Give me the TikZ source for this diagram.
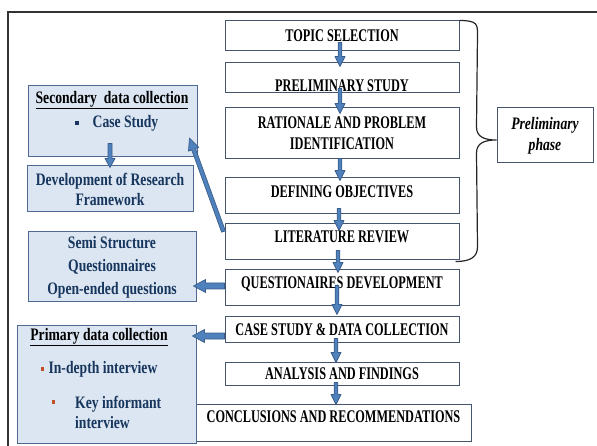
\documentclass[tikz,border=0pt]{standalone}
\usepackage{fontspec}
\setmainfont{Liberation Serif}
\newfontfamily\stepfont[FakeStretch=0.69]{Liberation Serif}
\newfontfamily\panelfont[FakeStretch=0.78]{Liberation Serif}
\usetikzlibrary{calc}

\definecolor{arrowfill}{RGB}{79,129,189}
\definecolor{arrowline}{RGB}{56,93,138}
\definecolor{panelfill}{RGB}{220,230,242}
\definecolor{panelline}{RGB}{80,105,145}
\definecolor{boxline}{RGB}{70,85,110}
\definecolor{navytext}{RGB}{23,54,93}
\definecolor{bulletred}{RGB}{192,80,40}

\tikzset{
  stepbox/.style={draw=boxline, line width=1pt, fill=white, minimum width=234pt, inner sep=1pt,
    font=\stepfont\bfseries\fontsize{17.8}{21}\selectfont, align=center},
  phasebox/.style={draw=boxline, line width=1pt, fill=white, inner sep=1pt,
    font=\panelfont\bfseries\itshape\fontsize{17.5}{21}\selectfont, align=center},
  panel/.style={draw=panelline, line width=1pt, fill=panelfill, inner sep=0pt},
  paneltext/.style={font=\panelfont\bfseries\fontsize{17.5}{20}\selectfont, text=navytext, align=center, inner sep=0pt},
  navybullet/.style={fill=navytext, inner sep=0pt, minimum size=3.5pt},
  redbullet/.style={fill=bulletred, inner sep=0pt, minimum width=3pt, minimum height=4pt},
  flowarrowstyle/.style={fill=arrowfill, draw=arrowline, line width=0.7pt, line join=round},
  bracestyle/.style={draw=black!85, line width=1.2pt},
}

% block arrow: from, to, half shaft, half head, head length
\newcommand{\flowarrow}[5]{%
  \coordinate (fa1) at #1;
  \coordinate (fa2) at #2;
  \coordinate (fah) at ($(fa2)!#5!(fa1)$);
  \filldraw[flowarrowstyle] ($(fa1)!#3!90:(fa2)$) -- ($(fah)!#3!-90:(fa1)$) -- ($(fah)!#4!-90:(fa1)$)
    -- (fa2) -- ($(fah)!#4!90:(fa1)$) -- ($(fah)!#3!90:(fa1)$) -- ($(fa1)!#3!-90:(fa2)$) -- cycle;}

\begin{document}
\begin{tikzpicture}[x=1pt, y=-1pt]
\useasboundingbox (0,0) rectangle (597,446);

\draw[black!80, line width=1.3pt] (8,446) -- (8,12) -- (597,12);

% main steps
\node[stepbox, minimum height=30pt] (topic) at (342,36) {TOPIC SELECTION};
\node[stepbox, minimum height=30pt, text height=27pt] (prelim) at ($(topic)+(0,42)$) {PRELIMINARY STUDY};
\node[stepbox, minimum height=51pt] (rationale) at ($(topic)+(0,97.5)$) {RATIONALE AND PROBLEM\\IDENTIFICATION};
\node[stepbox, minimum height=36pt, text depth=8pt] (objectives) at ($(topic)+(0,160)$) {DEFINING OBJECTIVES};
\node[stepbox, minimum height=36pt, text depth=10pt] (literature) at ($(topic)+(0,206)$) {LITERATURE REVIEW};
\node[stepbox, minimum height=36pt, text depth=10pt] (questionnaire) at ($(topic)+(0,252)$) {QUESTIONAIRES DEVELOPMENT};
\node[stepbox, minimum height=25pt] (fieldwork) at ($(topic)+(0,293.5)$) {CASE STUDY \& DATA COLLECTION};
\node[stepbox, minimum height=23pt] (analysis) at ($(topic)+(0,337.5)$) {ANALYSIS AND FINDINGS};
\node[stepbox, minimum height=37pt, minimum width=275pt, text depth=11pt] (conclusions) at (333.5,422.5) {CONCLUSIONS AND RECOMMENDATIONS};

% phase
\node[phasebox, minimum width=96pt, minimum height=55pt] (phase) at (545,135.5) {Preliminary\\phase};
\coordinate (bracetip) at ($(phase.west)+(0,4.5)$);
\draw[bracestyle] (topic.north east) .. controls +(18,0) and +(0,-10) .. ++(18,14)
  -- ($(bracetip)+(-20,-13)$) .. controls +(0,10) and +(-12,0) .. (bracetip)
  .. controls +(-12,0) and +(0,-10) .. ($(bracetip)+(-20,13)$)
  -- ($(literature.south east)+(18,-14)$) .. controls +(0,10) and +(16,0) .. ($(literature.south east)+(-4,1)$);

% left panels
\node[panel, minimum width=169pt, minimum height=71pt] (secondary) at (112.5,121.5) {};
\node[paneltext, text=black] (sectitle) at (112,100) {\underline{Secondary\ \ data collection}};
\node[navybullet] (b0) at (77,123) {};
\node[paneltext] (caseitem) at (125.5,123) {Case Study};

\node[panel, paneltext, minimum width=166pt, minimum height=46pt] (framework) at (110,189) {Development of Research\\Framework};

\node[panel, paneltext, minimum width=168pt, minimum height=70pt,
  font=\panelfont\bfseries\fontsize{17.5}{23}\selectfont] (semi) at (112,267) {Semi Structure\\Questionnaires\\Open-ended questions};

\node[panel, minimum width=179pt, minimum height=117pt] (primary) at (106.5,384.5) {};
\node[paneltext, text=black] (primtitle) at (99,337) {\underline{Primary data collection}};
\node[redbullet] (b1) at (42,369) {};
\node[paneltext] (indepth) at (103,369) {In-depth interview};
\node[redbullet] (b2) at (53,402) {};
\node[paneltext, align=left, anchor=west] (keyinf) at (75,412) {Key informant\\interview};

% arrows
\flowarrow{([xshift=-2pt,yshift=9pt]topic.south)}{([xshift=-2pt,yshift=-4pt]prelim.north)}{1.8pt}{5pt}{10pt}
\flowarrow{([xshift=-2pt,yshift=5pt]prelim.south)}{([xshift=-2pt,yshift=-6pt]rationale.north)}{1.8pt}{5pt}{10pt}
\flowarrow{([xshift=-2pt,yshift=1pt]rationale.south)}{([xshift=-2pt,yshift=-3pt]objectives.north)}{1.8pt}{5pt}{10pt}
\flowarrow{([xshift=-3pt,yshift=6pt]objectives.south)}{([xshift=-3pt,yshift=-7pt]literature.north)}{1.8pt}{5pt}{10pt}
\flowarrow{([xshift=-4pt,yshift=10pt]literature.south)}{([xshift=-4pt,yshift=-3pt]questionnaire.north)}{1.8pt}{5pt}{10pt}
\flowarrow{([xshift=-5pt,yshift=21pt]questionnaire.south)}{([xshift=-5pt,yshift=2pt]fieldwork.north)}{1.8pt}{5pt}{10pt}
\flowarrow{([xshift=-6pt,yshift=4pt]fieldwork.south)}{([xshift=-6pt,yshift=-1pt]analysis.north)}{1.8pt}{5pt}{10pt}
\flowarrow{([xshift=-6pt,yshift=3pt]analysis.south)}{([xshift=2.5pt,yshift=-1pt]conclusions.north)}{1.8pt}{5pt}{10pt}

\flowarrow{($(questionnaire.west)+(0,-2)$)}{($(questionnaire.west -| semi.east)+(-3,-2)$)}{3pt}{6.5pt}{12pt}
\flowarrow{($(fieldwork.west)+(0,6.5)$)}{($(fieldwork.west -| primary.east)+(-4,6.5)$)}{3pt}{6.5pt}{12pt}
\flowarrow{($(literature.north west)+(-1,8)$)}{($(secondary.east)+(-8,16.5)$)}{2pt}{5.5pt}{12pt}
\flowarrow{($(secondary.south)+(-2.5,-14)$)}{($(framework.north)+(0,2)$)}{2pt}{5pt}{9pt}

\end{tikzpicture}
\end{document}
